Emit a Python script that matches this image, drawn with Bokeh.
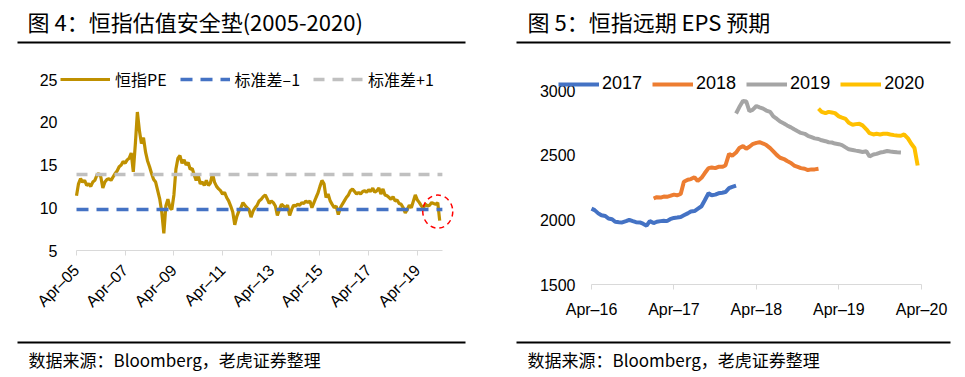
import pandas as pd
from bokeh.plotting import figure
from bokeh.models import Range1d, FixedTicker, Legend, LegendItem
from bokeh.layouts import row, column
from bokeh.core.properties import value
from bokeh.embed import file_html
from bokeh.resources import INLINE

CJK = "Noto Sans CJK SC"
LAT = "Liberation Sans"

# ---------------- data: left chart (HSI PE) ----------------
left_title = "图 4：恒指估值安全垫(2005-2020)"
right_title = "图 5：恒指远期 EPS 预期"
source_text = "数据来源：Bloomberg，老虎证券整理"

pe_start = "2005-04-01"   # monthly values
pe_values = [
    11.4, 12.8, 13.4, 13.0, 13.2, 12.6, 12.8, 12.5, 13.0,
    13.2, 13.8, 14.0, 13.6, 12.3, 13.0, 13.3, 13.4, 13.2, 13.6, 14.0, 14.3,
    14.8, 15.0, 15.4, 15.2, 15.6, 15.8, 16.4, 14.2, 17.5, 21.2, 19.0, 17.5,
    18.2, 16.5, 15.5, 14.8, 14.0, 13.3, 13.0, 12.0, 11.0, 9.5, 7.0, 10.2,
    11.0, 10.0, 9.8, 11.5, 14.5, 15.8, 16.1, 15.2, 15.6, 15.0, 15.3, 14.5,
    14.6, 13.8, 13.2, 13.8, 12.8, 13.0, 12.6, 13.2, 12.6, 12.9, 14.0, 13.0,
    12.5, 12.2, 12.0, 11.6, 11.8, 11.2, 10.8, 10.2, 9.5, 8.0, 9.0, 9.6,
    10.0, 10.6, 10.3, 10.0, 9.8, 8.9, 9.6, 10.0, 10.3, 10.8, 11.0, 11.3,
    11.5, 11.0, 10.5, 10.8, 10.6, 10.2, 9.1, 9.8, 10.4, 10.2, 10.0, 10.3,
    9.1, 9.8, 10.3, 10.2, 10.4, 10.3, 10.6, 10.5, 10.8, 10.6, 10.8, 10.0,
    10.6, 11.2, 11.7, 12.5, 13.2, 12.8, 11.2, 11.6, 10.8, 10.4, 10.0, 10.2,
    9.2, 10.0, 10.4, 10.8, 11.2, 11.5, 12.0, 12.2, 11.9, 11.6, 11.8, 11.6,
    11.9, 12.0, 11.8, 12.1, 11.9, 12.3, 11.8, 12.0, 12.3, 11.6, 12.2, 11.5,
    11.4, 11.2, 11.0, 11.3, 10.8, 10.9, 10.5, 10.4, 10.0, 9.4, 9.8, 10.3,
    10.0, 10.8, 11.5, 10.9, 10.6, 10.2, 10.0, 10.4, 10.2, 10.3, 10.6, 10.5,
    10.4, 10.6, 8.5,
]
sd_minus_1 = 9.8
sd_plus_1 = 13.9
pe_y_ticks = [5, 10, 15, 20, 25]
pe_tick_dates = ["2005-04-01", "2007-04-01", "2009-04-01", "2011-04-01",
                 "2013-04-01", "2015-04-01", "2017-04-01", "2019-04-01"]
pe_tick_labels = ["Apr–05", "Apr–07", "Apr–09", "Apr–11",
                  "Apr–13", "Apr–15", "Apr–17", "Apr–19"]
pe_axis_end = "2020-04-10"
legend_left = ["恒指PE", "标准差–1", "标准差+1"]

# ---------------- data: right chart (forward EPS) ----------------
eps_2017_start = "2016-04-01"   # semi-monthly values
eps_2017 = [2087, 2075, 2050, 2035, 2030, 2010, 2005, 1985, 1982, 1980,
            1990, 2000, 1990, 1982, 1980, 1970, 1955, 1990, 1975, 1985,
            1990, 1992, 1990, 2005, 2015, 2018, 2022, 2035, 2050, 2065,
            2068, 2085, 2105, 2150, 2205, 2190, 2195, 2205, 2210, 2215,
            2245, 2255, 2265]
eps_2018_start = "2017-01-01"
eps_2018 = [2165, 2175, 2172, 2180, 2178, 2185, 2195, 2190, 2200, 2295,
            2310, 2315, 2330, 2300, 2325, 2360, 2400, 2405, 2400, 2410,
            2410, 2420, 2510, 2495, 2520, 2555, 2570, 2550, 2565, 2585,
            2595, 2600, 2590, 2578, 2555, 2530, 2500, 2480, 2470, 2455,
            2440, 2420, 2410, 2400, 2395, 2385, 2390, 2390, 2395]
eps_2019_start = "2018-01-01"
eps_2019 = [2822, 2870, 2920, 2915, 2840, 2850, 2880, 2870, 2860, 2845,
            2835, 2800, 2780, 2760, 2745, 2730, 2715, 2700, 2685, 2672,
            2665, 2650, 2640, 2630, 2625, 2615, 2608, 2600, 2598, 2590,
            2585, 2578, 2560, 2545, 2540, 2535, 2530, 2525, 2530, 2490,
            2505, 2510, 2520, 2525, 2532, 2528, 2525, 2522, 2520]
eps_2020_start = "2019-01-01"
eps_2020 = [2860, 2835, 2825, 2835, 2830, 2825, 2800, 2790, 2780, 2750,
            2735, 2740, 2742, 2730, 2700, 2670, 2660, 2665, 2660, 2665,
            2665, 2660, 2655, 2652, 2650, 2660, 2630, 2590, 2555, 2420]
eps_labels = ["2017", "2018", "2019", "2020"]
eps_colors = ["#4472C4", "#ED7D31", "#A5A5A5", "#FFC000"]
eps_y_ticks = [1500, 2000, 2500, 3000]
eps_tick_dates = ["2016-04-01", "2017-04-01", "2018-04-01", "2019-04-01", "2020-04-01"]
eps_tick_labels = ["Apr–16", "Apr–17", "Apr–18", "Apr–19", "Apr–20"]


def ms(d):
    return pd.Timestamp(d).value / 1e6


YEAR_MS = 365.25 * 24 * 3600 * 1000
W_L, W_R = 485, 478
H_T, H_C, H_F = 48, 288, 40


def text_panel(width, height, text, tx, ty, size, line_x0, line_x1, line_y):
    f = figure(width=width, height=height, output_backend="svg", toolbar_location=None,
               tools="", x_range=Range1d(0, width), y_range=Range1d(height, 0),
               x_axis_location=None, y_axis_location=None, min_border=0,
               frame_align=False)
    f.grid.visible = False
    f.outline_line_color = None
    f.text(x=[tx], y=[ty], text=[text], text_font=value(CJK), text_font_size=size,
           text_baseline="middle", text_align="left", text_color="black")
    f.segment(x0=[line_x0], y0=[line_y], x1=[line_x1], y1=[line_y],
              line_color="black", line_width=2)
    return f


def style_axes(p, ystand):
    p.grid.visible = False
    p.outline_line_color = None
    yax = p.yaxis[0]
    yax.axis_line_color = None
    yax.major_tick_line_color = None
    yax.minor_tick_line_color = None
    yax.major_tick_out = 0
    yax.major_tick_in = 0
    yax.major_label_standoff = ystand
    yax.major_label_text_font = LAT
    yax.major_label_text_font_size = "16px"
    yax.major_label_text_color = "black"
    xax = p.xaxis[0]
    xax.axis_line_color = "#D9D9D9"
    xax.major_tick_line_color = "#D9D9D9"
    xax.minor_tick_line_color = None
    xax.major_tick_out = 5
    xax.major_tick_in = 0
    xax.major_label_text_font = LAT
    xax.major_label_text_font_size = "16px"
    xax.major_label_text_color = "black"


# ---------------- left chart ----------------
# frame: x 59..455, y 66..250 (page px); Apr-05 at 76, 24.35 px/year; 8.55 px/unit
pe_dates = pd.date_range(pe_start, periods=len(pe_values), freq="MS")
xa = ms(pe_start)
xb = ms(pe_axis_end)
px_year_l = 24.35
x0 = xa - (76 - 59) / px_year_l * YEAR_MS
x1 = xa + (455 - 76) / px_year_l * YEAR_MS
ytop_l = 25 + (79 - 66) / 8.55

pl = figure(width=W_L, height=H_C, output_backend="svg", toolbar_location=None, tools="",
            x_axis_type="datetime", x_range=Range1d(x0, x1), y_range=Range1d(5, ytop_l),
            min_border_left=59, min_border_right=W_L - 455, min_border_top=66 - H_T,
            min_border_bottom=H_C - (250 - H_T), frame_align=False)
style_axes(pl, 2)
pl.yaxis.ticker = FixedTicker(ticks=pe_y_ticks)
pt = [ms(d) for d in pe_tick_dates]
pl.xaxis.ticker = FixedTicker(ticks=pt)
pl.xaxis.major_label_overrides = {t: l for t, l in zip(pt, pe_tick_labels)}
pl.xaxis.major_label_orientation = 0.785398
pl.xaxis.major_label_standoff = 12
pl.xaxis.bounds = (xa, xb)

r_pe = pl.line(pe_dates, pe_values, line_color="#BF9000", line_width=3.2)
r_m1 = pl.line([xa, xb], [sd_minus_1, sd_minus_1], line_color="#4472C4", line_width=3.5,
               line_dash="12 8")
r_p1 = pl.line([xa, xb], [sd_plus_1, sd_plus_1], line_color="#C0C0C0", line_width=3.5,
               line_dash="11 8")
pl.ellipse(x=[pe_dates[-2]], y=[(pe_values[-1] + pe_values[-2]) / 2], width=30, height=33,
           width_units="screen", height_units="screen", fill_color=None,
           line_color="#FF0000", line_width=1.5, line_dash="5 4")

leg_l = Legend(items=[LegendItem(label=legend_left[0], renderers=[r_pe]),
                      LegendItem(label=legend_left[1], renderers=[r_m1]),
                      LegendItem(label=legend_left[2], renderers=[r_p1])],
               orientation="horizontal", location=(1, 159), glyph_width=50, glyph_height=20,
               label_standoff=5, spacing=13, padding=0, margin=0, border_line_color=None,
               background_fill_alpha=0, label_text_font=CJK, label_text_font_size="16px",
               label_text_color="black")
pl.add_layout(leg_l, "center")

# ---------------- right chart ----------------
# frame: x 556..932, y 70..284 (page px); Apr-16 at 591, Apr-20 at 921, 82.5 px/year
R0 = W_L
ra = ms(eps_tick_dates[0])
rb = ms(eps_tick_dates[-1])
px_year_r = 82.5
r0 = ra - (591 - 556) / px_year_r * YEAR_MS
r1 = rb + (932 - 921) / px_year_r * YEAR_MS
ytop_r = 3000 + (90 - 70) * 1500 / 194

pr = figure(width=W_R, height=H_C, output_backend="svg", toolbar_location=None, tools="",
            x_axis_type="datetime", x_range=Range1d(r0, r1), y_range=Range1d(1500, ytop_r),
            min_border_left=556 - R0, min_border_right=W_R - (932 - R0),
            min_border_top=70 - H_T, min_border_bottom=H_C - (284 - H_T), frame_align=False)
style_axes(pr, -(575 - 556))
pr.yaxis.ticker = FixedTicker(ticks=eps_y_ticks)
rt = [ms(d) for d in eps_tick_dates]
pr.xaxis.ticker = FixedTicker(ticks=rt)
pr.xaxis.major_label_overrides = {t: l for t, l in zip(rt, eps_tick_labels)}
pr.xaxis.major_label_standoff = 11
pr.xaxis.bounds = (ra, rb)

series = [(eps_2017_start, eps_2017), (eps_2018_start, eps_2018),
          (eps_2019_start, eps_2019), (eps_2020_start, eps_2020)]
items = []
for (start, vals), lab, col in zip(series, eps_labels, eps_colors):
    d = pd.date_range(start, periods=len(vals), freq="SMS")
    r = pr.line(d, vals, line_color=col, line_width=4)
    items.append(LegendItem(label=lab, renderers=[r]))

leg_r = Legend(items=items, orientation="horizontal", location=(2, 190), glyph_width=41,
               glyph_height=20, label_standoff=3, spacing=10, padding=0, margin=0,
               border_line_color=None, background_fill_alpha=0, label_text_font=LAT,
               label_text_font_size="18px", label_text_color="black")
pr.add_layout(leg_r, "center")

# ---------------- titles / footers ----------------
tl = text_panel(W_L, H_T, left_title, 27, 20.5, "22px", 17, 465, 42)
tr = text_panel(W_R, H_T, right_title, 527 - R0, 20.5, "22px", 516 - R0, 950 - R0, 42)
fl = text_panel(W_L, H_F, source_text, 28, 22.5, "17px", 17, 465, 6)
fr = text_panel(W_R, H_F, source_text, 527 - R0, 22.5, "17px", 516 - R0, 950 - R0, 6)

layout = row(column(tl, pl, fl, spacing=0), column(tr, pr, fr, spacing=0), spacing=0)

open("out.html", "w").write(file_html(layout, INLINE))
